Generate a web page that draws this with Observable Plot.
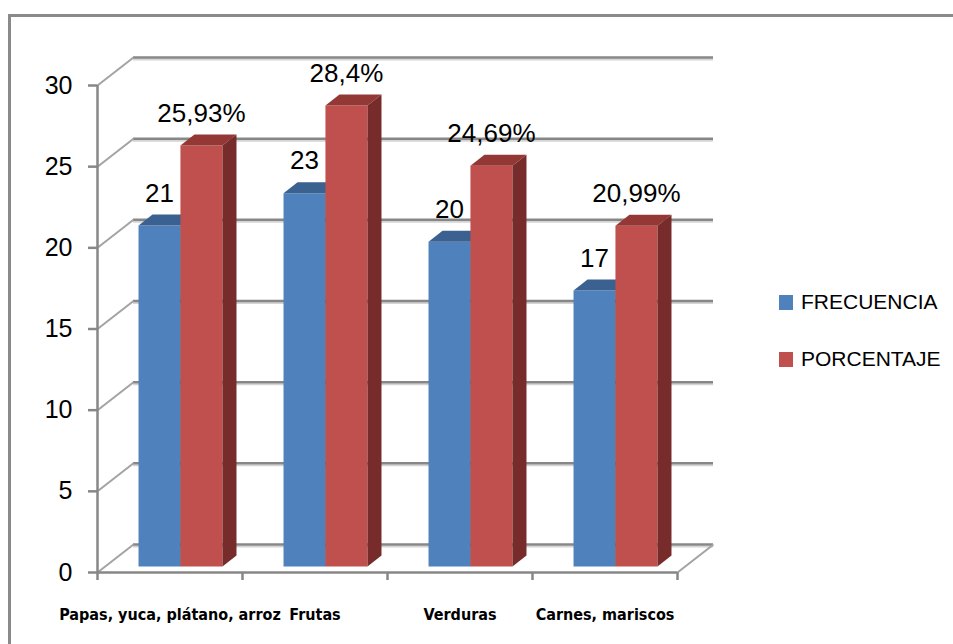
<!DOCTYPE html>
<html><head><meta charset="utf-8">
<script src="https://cdn.jsdelivr.net/npm/d3@7"></script>
<script src="https://cdn.jsdelivr.net/npm/@observablehq/plot@0.6"></script>
<style>
body{margin:0;background:#fff;width:953px;height:644px;overflow:hidden;position:relative;font-family:"Liberation Sans",Arial,sans-serif}
#frame{position:absolute;left:8px;top:14px;width:1000px;height:700px;border:3px solid #8a8a8a;box-sizing:border-box}
#chart{position:absolute;left:0;top:0}
#legend{position:absolute;left:779px;top:289px}
.item{display:flex;align-items:center;height:26px;margin-bottom:31px;font-size:21px;color:#000}
.sw{width:14px;height:15px;margin-right:8px}
</style></head><body>
<div id="frame"></div><div id="chart"></div><div id="legend"></div>
<script>
const categories = ["Papas, yuca, plátano, arroz", "Frutas", "Verduras", "Carnes, mariscos"];
const series = ["FRECUENCIA", "PORCENTAJE"];
const frecuencia = [21, 23, 20, 17];
const porcentaje = [25.93, 28.4, 24.69, 20.99];
const frecuenciaLabels = ["21", "23", "20", "17"];
const porcentajeLabels = ["25,93%", "28,4%", "24,69%", "20,99%"];
const yTicks = [0, 5, 10, 15, 20, 25, 30];

const colors = {
  FRECUENCIA: {front: "#4F81BD", top: "#3A6190", side: "#2F4F76"},
  PORCENTAJE: {front: "#C0504D", top: "#943836", side: "#772C2B"}
};

const W = 953, H = 644, mL = 97, mR = 276, mT = 85, mB = 72;
const pxX = (W - mL - mR) / categories.length;
const pxY = (H - mT - mB) / 30;
const WDX = 36 / pxX, WDY = 28 / pxY;   // wall depth
const BDX = 14 / pxX, BDY = 11 / pxY;   // bar depth
const barPos = {FRECUENCIA: [0.283, 0.572], PORCENTAJE: [0.572, 0.862]};

const bars = [];
categories.forEach((c, i) => {
  series.forEach(s => {
    const v = s === "FRECUENCIA" ? frecuencia[i] : porcentaje[i];
    const label = s === "FRECUENCIA" ? frecuenciaLabels[i] : porcentajeLabels[i];
    bars.push({cat: c, i, s, v, label, x1: i + barPos[s][0], x2: i + barPos[s][1]});
  });
});

const faces = [];
bars.forEach((b, k) => {
  const {x1, x2, v, s} = b;
  const poly = (type, pts) => pts.forEach(([x, y]) => faces.push({id: k + type, type, s, x, y, fill: colors[s][type]}));
  poly("front", [[x1, 0], [x2, 0], [x2, v], [x1, v]]);
  poly("top", [[x1, v], [x2, v], [x2 + BDX, v + BDY], [x1 + BDX, v + BDY]]);
  poly("side", [[x2, 0], [x2 + BDX, BDY], [x2 + BDX, v + BDY], [x2, v]]);
});

const grid = "#878787";
const chart = Plot.plot({
  width: W, height: H,
  marginLeft: mL, marginRight: mR, marginTop: mT, marginBottom: mB,
  x: {domain: [0, categories.length], axis: null},
  y: {domain: [0, 30], axis: null},
  color: {type: "identity"},
  style: {fontFamily: "'Liberation Sans', Arial, sans-serif", background: "transparent", overflow: "visible"},
  marks: [
    Plot.ruleY(yTicks, {x1: 0, x2: categories.length, dx: 36, dy: -26, stroke: "#d4d4d4", strokeWidth: 2}),
    Plot.ruleY(yTicks, {x1: 0, x2: categories.length, dx: 36, dy: -28, stroke: grid, strokeWidth: 2.5}),
    Plot.link(yTicks, {x1: 0, y1: d => d, x2: WDX, y2: d => d + WDY, stroke: "#a3a3a3", strokeWidth: 2}),
    Plot.link([0], {x1: categories.length, y1: 0, x2: categories.length + WDX, y2: WDY, stroke: "#a3a3a3", strokeWidth: 2}),
    Plot.line(faces.filter(d => d.s === "FRECUENCIA"), {x: "x", y: "y", z: "id", fill: "fill", stroke: null, dy: -6, curve: "linear"}),
    Plot.line(faces.filter(d => d.s === "PORCENTAJE"), {x: "x", y: "y", z: "id", fill: "fill", stroke: null, dy: -6, curve: "linear"}),
    Plot.ruleY([0], {x1: 0, x2: categories.length, stroke: grid, strokeWidth: 2.5}),
    Plot.ruleX([0], {y1: 0, y2: 30, stroke: grid, strokeWidth: 2.5}),
    Plot.axisY(yTicks, {tickSize: 9, tickPadding: 16, stroke: grid, strokeWidth: 2.5, fill: "#000", fontSize: 25, label: null}),
    Plot.axisX(d3.range(categories.length + 1), {tickSize: 8, tickFormat: () => "", stroke: grid, strokeWidth: 2.5, label: null}),
    Plot.axisX(categories.map((c, i) => i + 0.5), {tickSize: 0, tickPadding: 36, tickFormat: d => categories[Math.floor(d)],
      fill: "#000", fontSize: 16, fontWeight: "bold", fontFamily: "'Liberation Sans Narrow', 'DejaVu Sans Condensed', sans-serif", label: null}),
    Plot.text(bars, {x: d => (d.x1 + d.x2) / 2, y: "v", text: "label", dy: -38, fontSize: 26, fill: "#000"})
  ]
});
document.getElementById("chart").appendChild(chart);

const legend = document.getElementById("legend");
series.forEach(s => {
  const item = document.createElement("div");
  item.className = "item";
  item.innerHTML = `<div class="sw" style="background:${colors[s].front}"></div><span>${s}</span>`;
  legend.appendChild(item);
});
</script>
</body></html>
